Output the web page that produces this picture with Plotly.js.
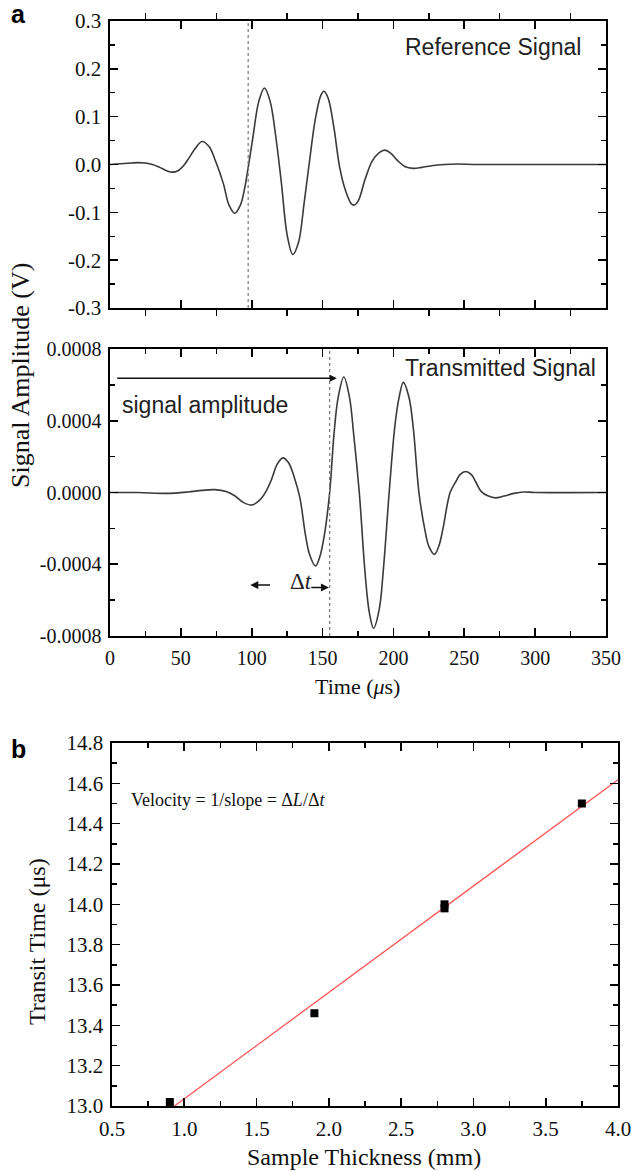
<!DOCTYPE html>
<html>
<head>
<meta charset="utf-8">
<script src="https://cdn.plot.ly/plotly-3.0.1.min.js"></script>
<style>
html,body{margin:0;padding:0;background:#fff;}
#chart{width:633px;height:1171px;}
</style>
</head>
<body>
<div id="chart"></div>
<script>
// ---------- Panel a: reference signal ----------
const refTime = [0,5,10,15,20,25,30,35,40,44,48,52,56,60,65,70,75,80,84,88,92,95,98,101,105,109,113,117,121,125,129,133,137,141,145,149,151,154,158,162,166,170,172,175,180,185,190,194,198,203,208,214,220,228,236,245,260,350];
const refAmp = [0.000,0.001,0.002,0.003,0.004,0.003,0.000,-0.006,-0.013,-0.016,-0.013,-0.002,0.015,0.033,0.048,0.037,0.003,-0.040,-0.085,-0.102,-0.085,-0.050,0.003,0.060,0.132,0.160,0.132,0.058,-0.040,-0.147,-0.188,-0.163,-0.080,0.012,0.097,0.146,0.153,0.138,0.077,-0.005,-0.053,-0.081,-0.085,-0.077,-0.031,0.007,0.025,0.030,0.024,0.008,-0.004,-0.008,-0.006,-0.002,0.000,0.001,0.000,0.000];

// ---------- Panel a: transmitted signal ----------
const trTime = [0,20,40,55,65,74,82,88,94,100,106,110,114,118,122,126,130,134,138,141,145,148,151,155,158,161,165,169,172,176,180,183,186,190,193,197,201,204,207,211,214,218,222,225,229,232,235,240,244,247,251,255,258,262,267,272,278,285,292,300,350];
const trAmp = [0,0,-0.000005,0.000003,0.000012,0.000016,0.000005,-0.000018,-0.000055,-0.000070,-0.000040,0.000005,0.000073,0.000158,0.000193,0.000166,0.000085,-0.000030,-0.000240,-0.000350,-0.000410,-0.000360,-0.000250,0.000000,0.000320,0.000530,0.000644,0.000530,0.000320,-0.000010,-0.000450,-0.000670,-0.000757,-0.000650,-0.000420,0.000000,0.000370,0.000530,0.000614,0.000530,0.000360,0.000000,-0.000200,-0.000300,-0.000345,-0.000300,-0.000200,0.000000,0.000060,0.000100,0.000117,0.000100,0.000060,0.000005,-0.000020,-0.000030,-0.000020,-0.000005,0.000003,0,0];

const refMarkerTime = 97.5;
const trMarkerTime = 155;
const amplitudeLevel = 0.000637;

const timeTicks = [0,50,100,150,200,250,300,350];
const timeTickLabels = ['0','50','100','150','200','250','300','350'];
const refTicks = [-0.3,-0.2,-0.1,0,0.1,0.2,0.3];
const refTickLabels = ['-0.3','-0.2','-0.1','0.0','0.1','0.2','0.3'];
const trTicks = [-0.0008,-0.0004,0,0.0004,0.0008];
const trTickLabels = ['-0.0008','-0.0004','0.0000','0.0004','0.0008'];

// ---------- Panel b ----------
const thickness = [0.9, 1.9, 2.8, 2.8, 3.75];
const transitTime = [13.02, 13.46, 13.98, 14.00, 14.50];
const fitThickness = [0.932, 4.0];
const fitTransit = [13.0, 14.618];
const thickTicks = [0.5,1.0,1.5,2.0,2.5,3.0,3.5,4.0];
const thickTickLabels = ['0.5','1.0','1.5','2.0','2.5','3.0','3.5','4.0'];
const transitTicks = [13.0,13.2,13.4,13.6,13.8,14.0,14.2,14.4,14.6,14.8];
const transitTickLabels = ['13.0','13.2','13.4','13.6','13.8','14.0','14.2','14.4','14.6','14.8'];

const W = 633, H = 1171;
const px = v => v / W;
const py = v => 1 - v / H;

const SERIF = 'Liberation Serif, Times New Roman, serif';
const SANS = 'Liberation Sans, Arial, sans-serif';
const lineCol = '#3a3a3a';

const traces = [
  {x: refTime, y: refAmp, xaxis:'x', yaxis:'y', mode:'lines', line:{color:lineCol, width:1.6, shape:'spline', smoothing:1}, hoverinfo:'none'},
  {x: [refMarkerTime, refMarkerTime], y: [-0.3, 0.3], xaxis:'x', yaxis:'y', mode:'lines', line:{color:'#777', width:1.2, dash:'dot'}, hoverinfo:'none'},
  {x: trTime, y: trAmp, xaxis:'x2', yaxis:'y2', mode:'lines', line:{color:lineCol, width:1.6, shape:'spline', smoothing:1}, hoverinfo:'none'},
  {x: [trMarkerTime, trMarkerTime], y: [-0.0008, 0.0008], xaxis:'x2', yaxis:'y2', mode:'lines', line:{color:'#777', width:1.2, dash:'dot'}, hoverinfo:'none'},
  {x: fitThickness, y: fitTransit, xaxis:'x3', yaxis:'y3', mode:'lines', line:{color:'#ff5555', width:1.3}, hoverinfo:'none'},
  {x: thickness, y: transitTime, xaxis:'x3', yaxis:'y3', mode:'markers', marker:{symbol:'square', size:8, color:'#000'}, hoverinfo:'none'}
];

const axBase = {
  showgrid:false, zeroline:false, showline:true, linecolor:'#000', linewidth:1.6,
  mirror:'ticks', ticks:'inside', ticklen:8, tickwidth:1.6, tickcolor:'#000',
  tickfont:{family:SERIF, size:20, color:'#111'}, tickmode:'array', ticklabelstandoff:3
};
const minorBase = {ticks:'inside', ticklen:5, tickwidth:1.4, tickcolor:'#000'};
const tf21 = {family:SERIF, size:21, color:'#111'};

const layout = {
  width: W, height: H,
  margin:{l:0, r:0, t:0, b:0},
  paper_bgcolor:'#fff', plot_bgcolor:'#fff',
  showlegend:false,
  xaxis: Object.assign({}, axBase, {domain:[px(110), px(606)], anchor:'y', range:[0,350], tickvals:timeTicks, ticktext:timeTickLabels, showticklabels:false, minor:Object.assign({}, minorBase, {tickvals:[25,75,125,175,225,275,325], ticks:'outside', ticklen:6})}),
  yaxis: Object.assign({}, axBase, {domain:[py(308), py(21)], anchor:'x', range:[-0.3,0.3], tickvals:refTicks, ticktext:refTickLabels, tickfont:tf21, minor:Object.assign({}, minorBase, {tickvals:[-0.25,-0.15,-0.05,0.05,0.15,0.25]})}),
  xaxis2: Object.assign({}, axBase, {domain:[px(110), px(606)], anchor:'y2', range:[0,350], tickvals:timeTicks, ticktext:timeTickLabels, minor:Object.assign({}, minorBase, {tickvals:[25,75,125,175,225,275,325]})}),
  yaxis2: Object.assign({}, axBase, {domain:[py(636), py(349)], anchor:'x2', range:[-0.0008,0.0008], tickvals:trTicks, ticktext:trTickLabels, minor:Object.assign({}, minorBase, {tickvals:[-0.0006,-0.0002,0.0002,0.0006]})}),
  xaxis3: Object.assign({}, axBase, {domain:[px(112), px(618)], anchor:'y3', range:[0.5,4.0], tickvals:thickTicks, ticktext:thickTickLabels, tickfont:tf21, minor:Object.assign({}, minorBase, {tickvals:[0.75,1.25,1.75,2.25,2.75,3.25,3.75]})}),
  yaxis3: Object.assign({}, axBase, {domain:[py(1106), py(743)], anchor:'x3', range:[13.0,14.8], tickvals:transitTicks, ticktext:transitTickLabels, tickfont:tf21, minor:Object.assign({}, minorBase, {tickvals:[13.1,13.3,13.5,13.7,13.9,14.1,14.3,14.5,14.7]})}),
  annotations: [
    {xref:'paper', yref:'paper', x:px(18), y:py(14), xanchor:'center', yanchor:'middle', text:'<b>a</b>', showarrow:false, font:{family:SANS, size:25, color:'#000'}},
    {xref:'paper', yref:'paper', x:px(18), y:py(749), xanchor:'center', yanchor:'middle', text:'<b>b</b>', showarrow:false, font:{family:SANS, size:25, color:'#000'}},
    {xref:'x', yref:'y', x:270, y:0.246, xanchor:'center', yanchor:'middle', text:'Reference Signal', showarrow:false, font:{family:SANS, size:23, color:'#222'}},
    {xref:'x2', yref:'y2', x:344, y:0.000694, xanchor:'right', yanchor:'middle', text:'Transmitted Signal', showarrow:false, font:{family:SANS, size:23, color:'#222'}},
    {xref:'x2', yref:'y2', x:7, y:0.00049, xanchor:'left', yanchor:'middle', text:'signal amplitude', showarrow:false, font:{family:SANS, size:23, color:'#222'}},
    {xref:'x2', yref:'y2', x:160, y:amplitudeLevel, axref:'x2', ayref:'y2', ax:4, ay:amplitudeLevel, text:'', showarrow:true, arrowhead:2, arrowsize:1, arrowwidth:1.4, arrowcolor:'#111', standoff:0},
    {xref:'x2', yref:'y2', x:99, y:-0.000516, axref:'x2', ayref:'y2', ax:114, ay:-0.000516, text:'', showarrow:true, arrowhead:2, arrowsize:1, arrowwidth:1.6, arrowcolor:'#111', standoff:0},
    {xref:'x2', yref:'y2', x:154.5, y:-0.00053, axref:'x2', ayref:'y2', ax:141, ay:-0.00053, text:'', showarrow:true, arrowhead:2, arrowsize:1, arrowwidth:1.6, arrowcolor:'#111', standoff:0},
    {xref:'x2', yref:'y2', x:135, y:-0.000495, xanchor:'center', yanchor:'middle', text:'Δ<i>t</i>', showarrow:false, font:{family:SERIF, size:23, color:'#222'}},
    {xref:'paper', yref:'paper', x:px(20), y:py(376), xanchor:'center', yanchor:'middle', text:'Signal Amplitude (V)', textangle:-90, showarrow:false, font:{family:SERIF, size:26, color:'#111'}},
    {xref:'paper', yref:'paper', x:px(357), y:py(686), xanchor:'center', yanchor:'middle', text:'Time (<i>μ</i>s)', showarrow:false, font:{family:SERIF, size:22, color:'#111'}},
    {xref:'paper', yref:'paper', x:px(37), y:py(942), xanchor:'center', yanchor:'middle', text:'Transit Time (μs)', textangle:-90, showarrow:false, font:{family:SERIF, size:24, color:'#111'}},
    {xref:'paper', yref:'paper', x:px(364), y:py(1157), xanchor:'center', yanchor:'middle', text:'Sample Thickness (mm)', showarrow:false, font:{family:SERIF, size:24, color:'#111'}},
    {xref:'x3', yref:'y3', x:0.62, y:14.515, xanchor:'left', yanchor:'middle', text:'Velocity = 1/slope = Δ<i>L</i>/Δ<i>t</i>', showarrow:false, font:{family:SERIF, size:18, color:'#111'}}
  ]
};

Plotly.newPlot('chart', traces, layout, {staticPlot:true, displayModeBar:false});
</script>
</body>
</html>
